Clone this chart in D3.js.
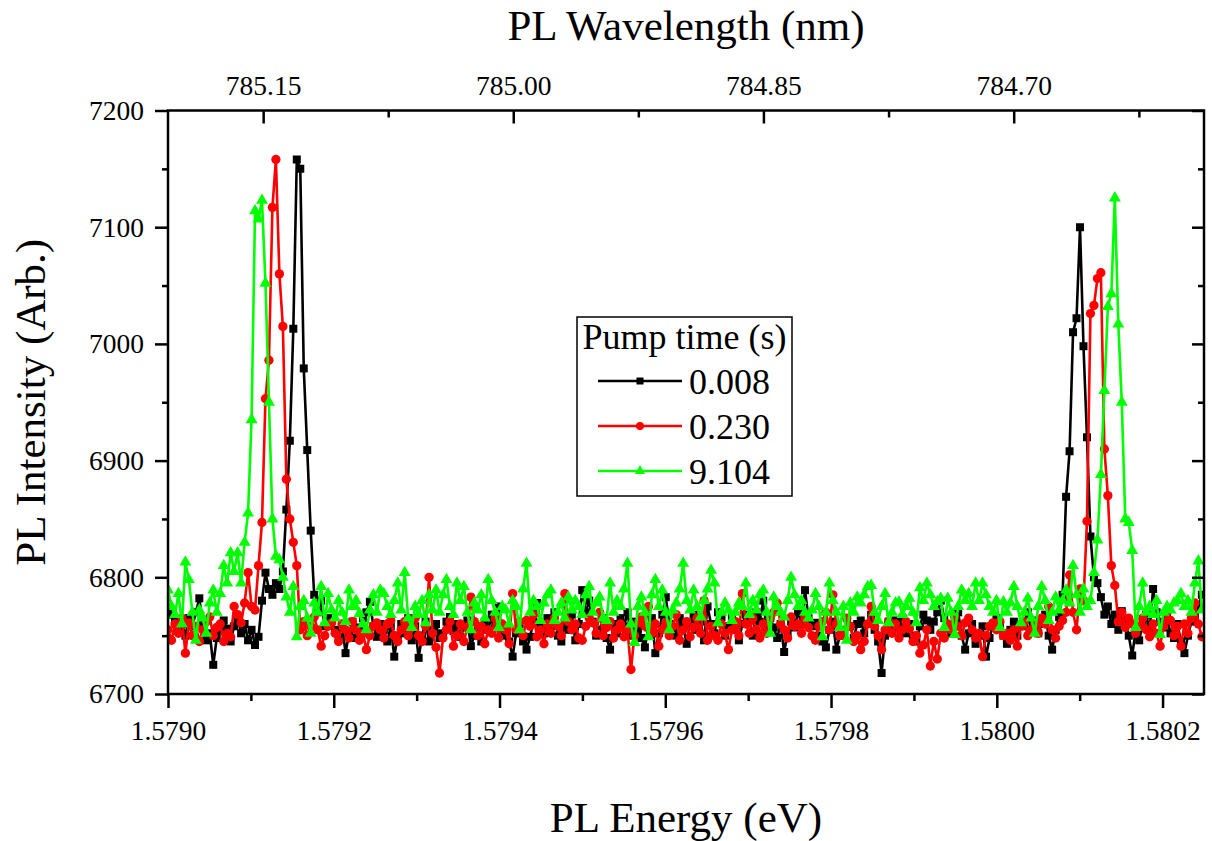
<!DOCTYPE html>
<html>
<head>
<meta charset="utf-8">
<style>
body{margin:0;background:#fff;}
svg{display:block;font-family:"Liberation Serif","Times New Roman",serif;}
svg text{font-family:"Liberation Serif","Times New Roman",serif;}
</style>
</head>
<body>
<script src="https://cdn.jsdelivr.net/npm/d3@7"></script>
<script>
// spectrometer grid (uniform in energy) and PL counts per pump time
const energyStart = 1.57900, energyStep = 0.0000042;
const seriesNames = ["0.008", "0.230", "9.104"];
const seriesColors = ["#000000", "#ff0000", "#00ff00"];

const pl008 = [
6772,6768,6763,6755,6760,6750,6765,6758,6770,6782,
6760,6746,6752,6725,6748,6755,6763,6756,6745,6758,
6765,6752,6760,6746,6755,6742,6749,6780,6804,6790,
6785,6795,6790,6805,6858,6917,7013,7158,7150,6979,
6909,6840,6785,6770,6780,6758,6765,6763,6755,6749,
6760,6735,6752,6762,6748,6757,6765,6770,6779,6758,
6749,6760,6755,6745,6758,6732,6750,6760,6752,6765,
6746,6758,6731,6750,6762,6745,6755,6760,6748,6752,
6762,6766,6754,6760,6749,6757,6763,6741,6750,6758,
6745,6762,6755,6768,6760,6775,6750,6758,6745,6732,
6752,6760,6745,6738,6749,6762,6778,6760,6752,6765,
6758,6770,6750,6745,6762,6755,6768,6746,6760,6789,
6770,6780,6762,6750,6755,6765,6748,6738,6760,6752,
6765,6758,6770,6750,6762,6755,6748,6740,6757,6765,
6735,6752,6768,6783,6760,6757,6750,6765,6758,6743,
6760,6768,6755,6762,6746,6775,6760,6752,6770,6766,
6750,6758,6765,6755,6746,6760,6768,6763,6750,6770,
6762,6780,6755,6765,6757,6748,6760,6736,6752,6762,
6757,6770,6760,6789,6765,6758,6761,6750,6745,6740,
6755,6762,6738,6750,6752,6765,6758,6748,6760,6763,
6752,6760,6768,6755,6745,6718,6750,6762,6755,6763,
6758,6765,6752,6760,6750,6745,6758,6768,6763,6755,
6762,6770,6780,6765,6758,6752,6761,6770,6750,6738,
6752,6760,6743,6750,6758,6732,6748,6760,6765,6757,
6750,6743,6755,6762,6750,6758,6761,6770,6755,6763,
6752,6760,6768,6750,6738,6755,6766,6785,6869,6908,
7010,7022,7100,6998,6920,6835,6800,6795,6783,6768,
6775,6760,6768,6755,6771,6762,6750,6733,6755,6746,
6760,6768,6755,6790,6770,6762,6757,6765,6752,6748,
6760,6745,6735,6750,6762,6766,6775,6785];

const pl230 = [
6755,6746,6760,6752,6765,6735,6761,6750,6758,6745,
6755,6762,6766,6750,6757,6760,6745,6752,6749,6775,
6768,6761,6778,6804,6775,6772,6810,6847,6953,6986,
7117,7158,7060,7015,6884,6850,6830,6810,6755,6762,
6750,6758,6766,6755,6741,6750,6758,6761,6752,6745,
6760,6755,6748,6762,6755,6746,6752,6738,6750,6758,
6761,6755,6748,6760,6763,6750,6745,6755,6762,6750,
6757,6765,6750,6745,6758,6800,6752,6740,6718,6748,
6755,6762,6741,6750,6760,6745,6757,6783,6762,6750,
6758,6743,6755,6752,6765,6748,6760,6755,6743,6786,
6755,6762,6750,6763,6758,6768,6749,6755,6743,6760,
6752,6765,6758,6750,6786,6762,6755,6760,6748,6746,
6758,6765,6761,6752,6770,6750,6757,6762,6748,6755,
6760,6749,6755,6721,6750,6761,6766,6758,6775,6752,
6760,6741,6755,6761,6750,6758,6768,6746,6755,6762,
6749,6757,6765,6752,6780,6746,6758,6750,6746,6760,
6752,6738,6755,6762,6750,6786,6760,6752,6765,6755,
6748,6760,6752,6765,6770,6778,6760,6755,6748,6766,
6758,6760,6752,6765,6757,6750,6746,6758,6762,6770,
6755,6785,6760,6750,6752,6765,6758,6745,6750,6738,
6745,6760,6775,6758,6750,6738,6755,6762,6752,6760,
6748,6755,6762,6756,6745,6750,6735,6742,6755,6724,
6745,6730,6752,6748,6760,6755,6766,6758,6750,6761,
6765,6755,6748,6752,6732,6750,6758,6761,6755,6762,
6750,6752,6746,6755,6741,6758,6762,6750,6755,6760,
6752,6765,6760,6775,6755,6748,6758,6763,6770,6802,
6770,6755,6790,6780,6848,7026,7033,7056,7061,6910,
6870,6810,6793,6762,6770,6757,6765,6760,6752,6758,
6765,6755,6749,6760,6752,6741,6758,6770,6763,6750,
6758,6741,6760,6752,6765,6778,6760,6749];

const pl9104 = [
6789,6775,6768,6786,6760,6813,6798,6770,6746,6772,
6765,6752,6778,6789,6770,6786,6810,6795,6821,6805,
6821,6795,6830,6855,6935,7114,7107,7123,7052,6950,
6850,6818,6815,6800,6783,6770,6792,6749,6775,6780,
6765,6752,6778,6770,6792,6761,6786,6772,6765,6780,
6770,6762,6789,6775,6780,6769,6760,6755,6772,6785,
6770,6789,6786,6775,6768,6780,6795,6772,6804,6765,
6757,6775,6768,6780,6761,6785,6772,6789,6770,6785,
6798,6775,6768,6795,6780,6792,6770,6755,6778,6772,
6785,6765,6798,6780,6770,6757,6775,6772,6760,6780,
6775,6755,6790,6812,6770,6780,6775,6763,6778,6785,
6789,6763,6770,6778,6765,6783,6772,6780,6775,6768,
6785,6792,6770,6778,6783,6765,6763,6795,6770,6780,
6775,6790,6812,6760,6744,6775,6783,6770,6749,6785,
6798,6775,6789,6770,6755,6772,6778,6790,6812,6780,
6772,6789,6775,6766,6780,6790,6806,6795,6761,6770,
6778,6772,6763,6770,6778,6775,6795,6768,6780,6772,
6785,6789,6770,6752,6783,6775,6770,6766,6780,6800,
6785,6775,6780,6770,6765,6772,6786,6775,6749,6770,
6795,6780,6770,6757,6775,6746,6778,6770,6783,6778,
6785,6792,6793,6770,6763,6775,6786,6761,6770,6778,
6779,6768,6775,6782,6770,6761,6791,6780,6795,6785,
6775,6779,6782,6757,6782,6770,6751,6775,6789,6780,
6786,6775,6795,6780,6795,6785,6775,6770,6780,6757,
6779,6770,6778,6792,6775,6761,6770,6782,6765,6752,
6775,6792,6780,6763,6770,6783,6772,6780,6789,6778,
6810,6785,6770,6790,6775,6780,6804,6832,6888,6960,
7032,7043,7125,7017,6950,6850,6847,6823,6757,6775,
6795,6770,6775,6768,6780,6751,6770,6775,6772,6778,
6780,6786,6775,6780,6770,6795,6814,6772];

const energyTicks = [1.5790, 1.5792, 1.5794, 1.5796, 1.5798, 1.5800, 1.5802];
const energyMinor = [1.5791, 1.5793, 1.5795, 1.5797, 1.5799, 1.5801];
const wavelengthTicks = [785.15, 785.00, 784.85, 784.70];
const wavelengthMinor = [785.075, 784.925, 784.775, 784.625];
const intensityTicks = [6700, 6800, 6900, 7000, 7100, 7200];
const intensityMinor = [6750, 6850, 6950, 7050, 7150];
const hc = 1239.842; // eV*nm

const allSeries = [pl008, pl230, pl9104];
const energies = d3.range(pl008.length).map(i => energyStart + i * energyStep);

const width = 1212, height = 841;
const L = 168, R = 1204, T = 110.5, B = 694;
const serif = '"Liberation Serif","Times New Roman",serif';

const svg = d3.select("body").append("svg")
  .attr("width", width).attr("height", height);

const x = d3.scaleLinear().domain([1.5790, 1.58025]).range([L, R]);
const y = d3.scaleLinear().domain([6700, 7200]).range([B, T]);

svg.append("defs").append("clipPath").attr("id", "clip")
  .append("rect").attr("x", L).attr("y", T).attr("width", R - L).attr("height", B - T);

// data
const plot = svg.append("g").attr("clip-path", "url(#clip)");
const line = d3.line().x((d, i) => x(energies[i])).y(d => y(d));
const symbols = [d3.symbol().type(d3.symbolSquare).size(64),
                 d3.symbol().type(d3.symbolCircle).size(68),
                 d3.symbol().type(d3.symbolTriangle).size(62)];

allSeries.forEach((vals, k) => {
  const g = plot.append("g");
  g.append("path").datum(vals)
    .attr("d", line).attr("fill", "none")
    .attr("stroke", seriesColors[k]).attr("stroke-width", 2.6)
    .attr("stroke-linejoin", "round");
  g.selectAll("path.m").data(vals).enter().append("path")
    .attr("class", "m")
    .attr("d", symbols[k])
    .attr("transform", (d, i) => `translate(${x(energies[i])},${y(d)})`)
    .attr("fill", seriesColors[k]);
});

// axes
function style(g) {
  g.attr("font-family", serif).attr("font-size", 27.5);
  g.select(".domain").remove();
  g.selectAll("line").attr("stroke", "#000").attr("stroke-width", 2.5);
  g.selectAll("text").attr("font-family", serif).attr("font-size", 27.5).attr("fill", "#000");
}

svg.append("g").attr("transform", `translate(0,${B})`)
  .call(d3.axisBottom(x).tickValues(energyTicks).tickFormat(d3.format(".4f"))
    .tickSizeInner(14).tickSizeOuter(0).tickPadding(12))
  .call(style);
svg.append("g").attr("transform", `translate(0,${B})`)
  .call(d3.axisBottom(x).tickValues(energyMinor).tickFormat("").tickSizeInner(7).tickSizeOuter(0))
  .call(style);

svg.append("g").attr("transform", `translate(0,${T})`)
  .call(d3.axisTop(x).tickValues(wavelengthTicks.map(w => hc / w))
    .tickFormat((d, i) => wavelengthTicks[i].toFixed(2))
    .tickSizeInner(-13).tickSizeOuter(0).tickPadding(16))
  .call(style);
svg.append("g").attr("transform", `translate(0,${T})`)
  .call(d3.axisTop(x).tickValues(wavelengthMinor.map(w => hc / w).filter(e => e >= 1.5790))
    .tickFormat("").tickSizeInner(-7).tickSizeOuter(0))
  .call(style);

svg.append("g").attr("transform", `translate(${L},0)`)
  .call(d3.axisLeft(y).tickValues(intensityTicks).tickFormat(d3.format("d"))
    .tickSizeInner(13).tickSizeOuter(0).tickPadding(11))
  .call(style);
svg.append("g").attr("transform", `translate(${L},0)`)
  .call(d3.axisLeft(y).tickValues(intensityMinor).tickFormat("").tickSizeInner(6).tickSizeOuter(0))
  .call(style);

svg.append("g").attr("transform", `translate(${R},0)`)
  .call(d3.axisRight(y).tickValues(intensityTicks).tickFormat("").tickSizeInner(-12).tickSizeOuter(0))
  .call(style);
svg.append("g").attr("transform", `translate(${R},0)`)
  .call(d3.axisRight(y).tickValues(intensityMinor).tickFormat("").tickSizeInner(-6).tickSizeOuter(0))
  .call(style);

svg.append("rect").attr("x", L).attr("y", T).attr("width", R - L).attr("height", B - T)
  .attr("fill", "none").attr("stroke", "#000").attr("stroke-width", 2.5);

// titles
svg.append("text").attr("x", (L + R) / 2).attr("y", 832).attr("text-anchor", "middle")
  .attr("font-size", 43).text("PL Energy (eV)");
svg.append("text").attr("x", (L + R) / 2).attr("y", 40).attr("text-anchor", "middle")
  .attr("font-size", 43).text("PL Wavelength (nm)");
svg.append("text").attr("transform", `translate(45,${(T + B) / 2}) rotate(-90)`)
  .attr("text-anchor", "middle").attr("font-size", 43).text("PL Intensity (Arb.)");

// legend
const lg = svg.append("g");
lg.append("rect").attr("x", 577).attr("y", 317).attr("width", 215).attr("height", 179)
  .attr("fill", "#fff").attr("stroke", "#000").attr("stroke-width", 1.5);
lg.append("text").attr("x", 684.5).attr("y", 349).attr("text-anchor", "middle")
  .attr("font-size", 36).text("Pump time (s)");
const legSymbols = [d3.symbol().type(d3.symbolSquare).size(49),
                    d3.symbol().type(d3.symbolCircle).size(50),
                    d3.symbol().type(d3.symbolTriangle).size(45)];
seriesNames.forEach((name, k) => {
  const yy = 381 + k * 45;
  lg.append("line").attr("x1", 598).attr("x2", 682).attr("y1", yy).attr("y2", yy)
    .attr("stroke", seriesColors[k]).attr("stroke-width", 2.4);
  lg.append("path").attr("d", legSymbols[k]).attr("transform", `translate(640,${yy})`)
    .attr("fill", seriesColors[k]);
  lg.append("text").attr("x", 689).attr("y", yy + 12.5).attr("font-size", 36).text(name);
});
</script>
</body>
</html>
